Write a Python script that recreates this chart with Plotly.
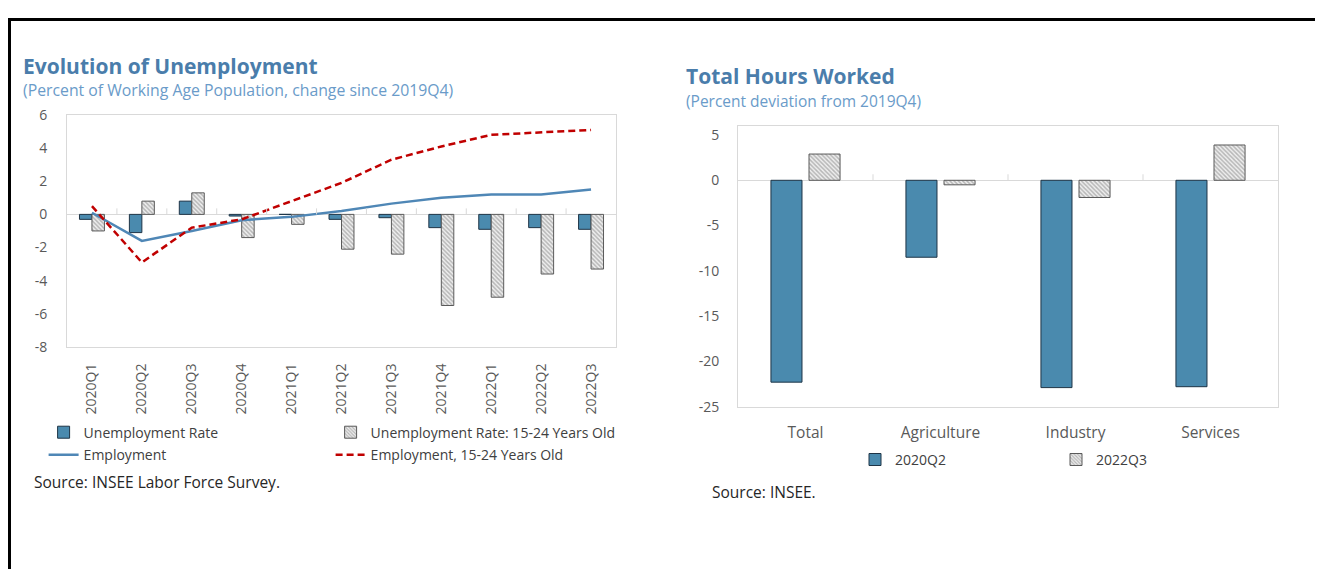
import plotly.graph_objects as go

# figure size / placement calibration for the page (body margin, vertical rendering scale)
W, H = 1315, 572
X_OFF = 8.0
Y_OFF = 18.0
Y_SCALE = 0.967

# ---------------- data ----------------
quarters = ['2020Q1', '2020Q2', '2020Q3', '2020Q4', '2021Q1', '2021Q2',
            '2021Q3', '2021Q4', '2022Q1', '2022Q2', '2022Q3']
unemployment_rate = [-0.3, -1.1, 0.8, -0.1, 0.0, -0.3, -0.2, -0.8, -0.9, -0.8, -0.9]
unemployment_youth = [-1.0, 0.8, 1.3, -1.4, -0.6, -2.1, -2.4, -5.5, -5.0, -3.6, -3.3]
employment = [0.1, -1.6, -1.0, -0.35, -0.15, 0.2, 0.65, 1.0, 1.2, 1.2, 1.5]
employment_youth = [0.5, -2.9, -0.8, -0.3, 0.8, 1.9, 3.3, 4.1, 4.8, 4.95, 5.1]

sectors = ['Total', 'Agriculture', 'Industry', 'Services']
hours_2020q2 = [-22.3, -8.5, -22.9, -22.8]
hours_2022q3 = [2.9, -0.5, -1.9, 3.9]

left_ticks = [6, 4, 2, 0, -2, -4, -6, -8]
right_ticks = [5, 0, -5, -10, -15, -20, -25]

# ---------------- styles ----------------
FONT = 'Open Sans'
BLUE_BAR = '#4a8aae'
BLUE_EDGE = '#1e3446'
LINE_BLUE = '#4f87b6'
RED = '#c00000'
TITLE_BLUE = '#4a7dab'
SUB_BLUE = '#6a9bc9'
AXIS_GRAY = '#d9d9d9'
TICK_TXT = '#595959'
TXT = '#404040'

hatch = dict(shape='\\', fgcolor='#7d7d7d', bgcolor='#efefef', size=3, solidity=0.5)


def px(x):
    return (x - X_OFF) / W


def py(y):
    return 1 - ((y - Y_OFF) / Y_SCALE) / H


fig = go.Figure()

# Left chart bars
fig.add_trace(go.Bar(x=quarters, y=unemployment_rate, name='Unemployment Rate',
                     marker=dict(color=BLUE_BAR, line=dict(color=BLUE_EDGE, width=1)),
                     width=0.25, offset=-0.25, xaxis='x', yaxis='y', legend='legend'))
fig.add_trace(go.Bar(x=quarters, y=unemployment_youth, name='Unemployment Rate: 15-24 Years Old',
                     marker=dict(color='#efefef', pattern=hatch, line=dict(color='#5a5a5a', width=1)),
                     width=0.25, offset=0.0, xaxis='x', yaxis='y', legend='legend'))
fig.add_trace(go.Scatter(x=quarters, y=employment, name='Employment', mode='lines',
                         line=dict(color=LINE_BLUE, width=2.5), xaxis='x', yaxis='y',
                         legend='legend2'))
fig.add_trace(go.Scatter(x=quarters, y=employment_youth, name='Employment, 15-24 Years Old',
                         mode='lines', line=dict(color=RED, width=2.5, dash='7px,4px'),
                         xaxis='x', yaxis='y', legend='legend2'))

# Right chart bars
fig.add_trace(go.Bar(x=sectors, y=hours_2020q2, name='2020Q2',
                     marker=dict(color=BLUE_BAR, line=dict(color=BLUE_EDGE, width=1)),
                     width=0.23, offset=-0.256, xaxis='x2', yaxis='y2', legend='legend3'))
fig.add_trace(go.Bar(x=sectors, y=hours_2022q3, name='2022Q3',
                     marker=dict(color='#efefef', pattern=hatch, line=dict(color='#5a5a5a', width=1)),
                     width=0.23, offset=0.026, xaxis='x2', yaxis='y2', legend='legend3'))

tickfont = dict(family=FONT, size=14, color=TICK_TXT)
legfont = dict(family=FONT, size=14, color=TXT)

fig.update_layout(
    width=W, height=H,
    margin=dict(l=0, r=0, t=0, b=0),
    paper_bgcolor='white', plot_bgcolor='white',
    barmode='overlay',
    font=dict(family=FONT, size=14, color=TXT),
    xaxis=dict(domain=[px(67), px(616)], type='category', range=[-0.5, len(quarters) - 0.5],
               showline=True, mirror=True, linecolor=AXIS_GRAY, linewidth=1,
               showgrid=False, tickangle=-90, ticks='outside', ticklen=10,
               tickcolor='rgba(0,0,0,0)', tickfont=tickfont, anchor='y'),
    yaxis=dict(domain=[py(347), py(115)], range=[-8, 6], tickvals=left_ticks,
               ticktext=[str(v) for v in left_ticks],
               showline=True, mirror=True, linecolor=AXIS_GRAY, linewidth=1,
               showgrid=False, zeroline=True, zerolinecolor=AXIS_GRAY, zerolinewidth=1,
               ticks='outside', ticklen=16, tickcolor='rgba(0,0,0,0)', tickfont=tickfont,
               anchor='x'),
    xaxis2=dict(domain=[px(738), px(1278)], type='category', range=[-0.5, len(sectors) - 0.5],
                showline=True, mirror=True, linecolor=AXIS_GRAY, linewidth=1,
                showgrid=False, ticks='outside', ticklen=12, tickcolor='rgba(0,0,0,0)',
                tickfont=dict(family=FONT, size=15.5, color=TICK_TXT), anchor='y2'),
    yaxis2=dict(domain=[py(406.7), py(126)], range=[-25, 6], tickvals=right_ticks,
                ticktext=[str(v) for v in right_ticks],
                showline=True, mirror=True, linecolor=AXIS_GRAY, linewidth=1,
                showgrid=False, zeroline=True, zerolinecolor=AXIS_GRAY, zerolinewidth=1,
                ticks='outside', ticklen=15, tickcolor='rgba(0,0,0,0)', tickfont=tickfont,
                anchor='x2'),
    legend=dict(orientation='h', x=px(43.6), y=py(416.7), xanchor='left', yanchor='top',
                entrywidth=242, entrywidthmode='pixels', bgcolor='rgba(0,0,0,0)',
                font=legfont, traceorder='normal'),
    legend2=dict(orientation='h', x=px(43.6), y=py(439.3), xanchor='left', yanchor='top',
                 entrywidth=242, entrywidthmode='pixels', bgcolor='rgba(0,0,0,0)',
                 font=legfont, traceorder='normal'),
    legend3=dict(orientation='h', x=px(855), y=py(444), xanchor='left', yanchor='top',
                 entrywidth=156, entrywidthmode='pixels', bgcolor='rgba(0,0,0,0)',
                 font=legfont, traceorder='normal'),
)

# small category-boundary ticks on the zero lines
shapes = []
for i in range(len(quarters) - 1):
    shapes.append(dict(type='line', xref='x', yref='y', x0=i + 0.5, x1=i + 0.5,
                       ysizemode='pixel', yanchor=0, y0=0, y1=6,
                       line=dict(color=AXIS_GRAY, width=1)))
for i in range(len(sectors) - 1):
    shapes.append(dict(type='line', xref='x2', yref='y2', x0=i + 0.5, x1=i + 0.5,
                       ysizemode='pixel', yanchor=0, y0=0, y1=6,
                       line=dict(color=AXIS_GRAY, width=1)))
# outer frame (top and left black rules)
top_y = 1 - 1.6 / H
shapes.append(dict(type='line', xref='paper', yref='paper', x0=px(8), x1=1.0,
                   y0=top_y, y1=top_y, line=dict(color='black', width=3)))
shapes.append(dict(type='line', xref='paper', yref='paper', x0=px(9.5), x1=px(9.5),
                   y0=top_y + 0.5 / H, y1=0, line=dict(color='black', width=3)))
fig.update_layout(shapes=shapes)

annots = [
    dict(text='<b>Evolution of Unemployment</b>', x=px(21), y=py(66),
         font=dict(family=FONT, size=21, color=TITLE_BLUE)),
    dict(text='(Percent of Working Age Population, change since 2019Q4)', x=px(21), y=py(90.5),
         font=dict(family=FONT, size=15.8, color=SUB_BLUE)),
    dict(text='Source: INSEE Labor Force Survey.', x=px(32), y=py(482),
         font=dict(family=FONT, size=15.5, color='#262626')),
    dict(text='<b>Total Hours Worked</b>', x=px(684), y=py(76),
         font=dict(family=FONT, size=21, color=TITLE_BLUE)),
    dict(text='(Percent deviation from 2019Q4)', x=px(684), y=py(101.5),
         font=dict(family=FONT, size=15.5, color=SUB_BLUE)),
    dict(text='Source: INSEE.', x=px(710), y=py(492),
         font=dict(family=FONT, size=15.5, color='#262626')),
]
for a in annots:
    a.update(xref='paper', yref='paper', xanchor='left', yanchor='middle', showarrow=False)
fig.update_layout(annotations=annots)

fig.write_html('out.html')
